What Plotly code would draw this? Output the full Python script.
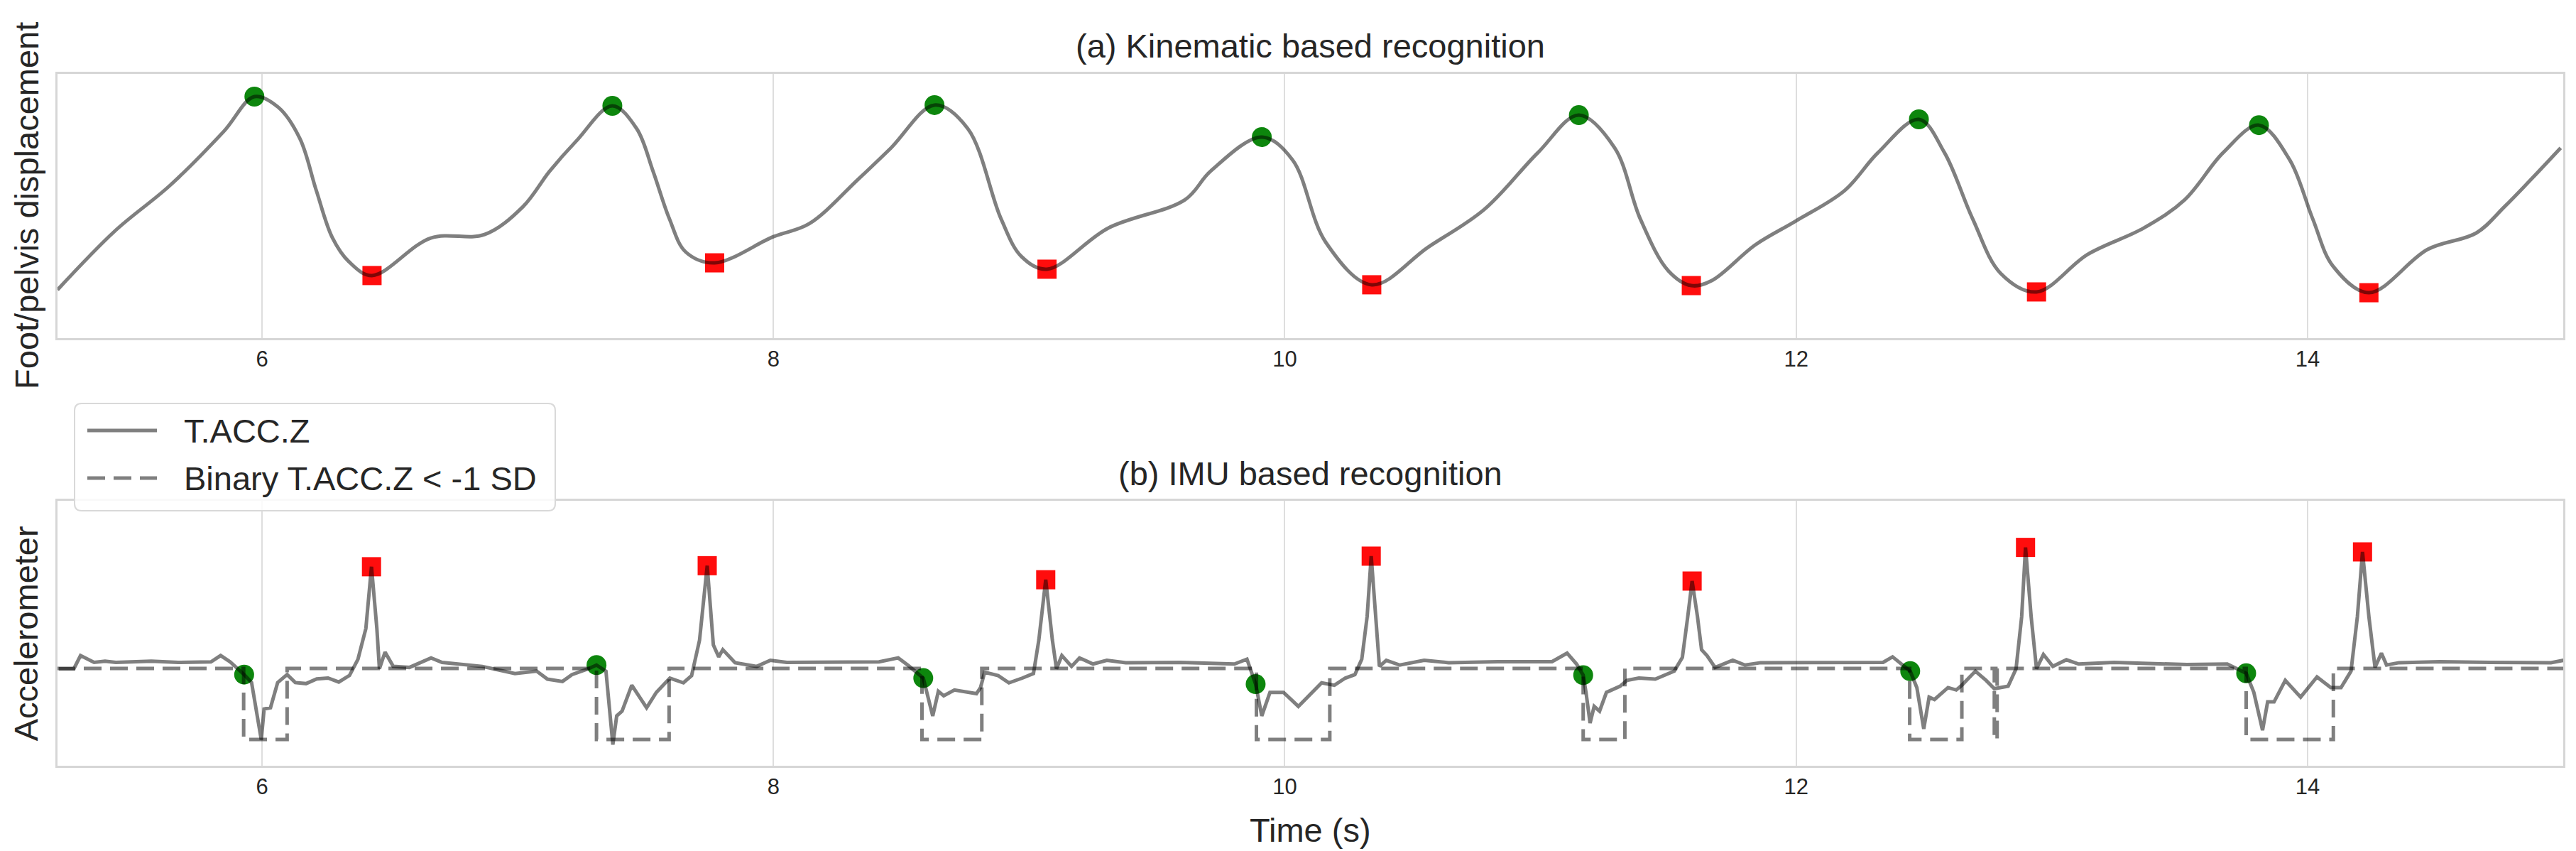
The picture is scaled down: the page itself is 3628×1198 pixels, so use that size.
import plotly.graph_objects as go

# ---------------- data ----------------
# (a) Foot/pelvis displacement (normalised units)
kin_t = [5.20, 5.425, 5.64, 5.85, 5.97, 6.063, 6.148, 6.212, 6.275, 6.339, 6.43, 6.66, 6.87, 7.02, 7.125,
         7.23, 7.37, 7.465, 7.529, 7.593, 7.657, 7.77, 8.0, 8.14, 8.33, 8.46, 8.63, 8.76, 8.89, 8.97, 9.07, 9.31,
         9.61, 9.71, 9.91, 10.03, 10.16, 10.34, 10.56, 10.78, 10.99, 11.15, 11.29, 11.39, 11.50,
         11.59, 11.67, 11.84, 12.0, 12.19, 12.32, 12.48, 12.58, 12.69, 12.80, 12.94, 13.14, 13.36,
         13.52, 13.67, 13.81, 13.93, 14.02, 14.10, 14.24, 14.47, 14.66, 14.77, 14.99]
kin_v = [0.183, 0.406, 0.578, 0.782, 0.914, 0.874, 0.755, 0.559, 0.38, 0.29, 0.237, 0.379, 0.392, 0.497, 0.632,
         0.747, 0.879, 0.793, 0.632, 0.452, 0.326, 0.285, 0.384, 0.433, 0.60, 0.72, 0.882, 0.793, 0.452, 0.309,
         0.261, 0.417, 0.524, 0.632, 0.761, 0.675, 0.363, 0.202, 0.344, 0.487, 0.702, 0.844, 0.72, 0.452, 0.255,
         0.199, 0.218, 0.353, 0.444, 0.559, 0.702, 0.828, 0.702, 0.452, 0.245, 0.175, 0.317, 0.417,
         0.524, 0.702, 0.806, 0.675, 0.452, 0.272, 0.172, 0.336, 0.398, 0.497, 0.72]
kin_peak_t = [5.97, 7.37, 8.63, 9.91, 11.15, 12.48, 13.81]
kin_peak_v = [0.914, 0.879, 0.882, 0.761, 0.844, 0.828, 0.806]
kin_trough_t = [6.43, 7.77, 9.07, 10.34, 11.59, 12.94, 14.24]
kin_trough_v = [0.237, 0.285, 0.261, 0.202, 0.199, 0.175, 0.172]

# (b) T.ACC.Z accelerometer (normalised units)
acc_t = [5.205, 5.264, 5.290, 5.343, 5.386, 5.428, 5.567, 5.672, 5.800, 5.838, 5.875, 5.930, 5.959, 5.997,
         6.008, 6.033, 6.061, 6.098, 6.130, 6.172, 6.214, 6.258, 6.300, 6.342, 6.375, 6.406, 6.428, 6.449,
         6.459, 6.481, 6.513, 6.576, 6.661, 6.704, 6.861, 6.989, 7.074, 7.116, 7.175, 7.212, 7.276, 7.308,
         7.345, 7.372, 7.387, 7.408, 7.446, 7.504, 7.542, 7.595, 7.648, 7.680, 7.711, 7.741, 7.765, 7.786,
         7.802, 7.850, 7.935, 7.988, 8.052, 8.243, 8.413, 8.488, 8.528, 8.586, 8.623, 8.645, 8.666, 8.708,
         8.794, 8.810, 8.826, 8.879, 8.921, 8.974, 9.017, 9.038, 9.065, 9.091, 9.107, 9.128, 9.166, 9.197,
         9.250, 9.304, 9.378, 9.591, 9.803, 9.852, 9.886, 9.910, 9.942, 9.995, 10.053, 10.144, 10.194,
         10.237, 10.274, 10.301, 10.322, 10.338, 10.354, 10.370, 10.397, 10.450, 10.545, 10.641, 10.833,
         11.045, 11.104, 11.141, 11.167, 11.178, 11.194, 11.210, 11.231, 11.258, 11.311, 11.338, 11.385,
         11.449, 11.523, 11.555, 11.576, 11.593, 11.614, 11.630, 11.651, 11.683, 11.752, 11.800, 11.861,
         12.0, 12.340, 12.377, 12.414, 12.446, 12.472, 12.499, 12.520, 12.541, 12.594, 12.626, 12.648,
         12.701, 12.743, 12.775, 12.829, 12.860, 12.882, 12.897, 12.919, 12.940, 12.967, 13.004, 13.057,
         13.105, 13.243, 13.528, 13.686, 13.726, 13.760, 13.790, 13.824, 13.844, 13.869, 13.913, 13.973,
         14.037, 14.091, 14.131, 14.170, 14.195, 14.215, 14.240, 14.264, 14.289, 14.309, 14.358, 14.517,
         14.714, 14.952, 15.001]
acc_v = [0.366, 0.366, 0.416, 0.390, 0.395, 0.390, 0.395, 0.390, 0.392, 0.416, 0.392, 0.344, 0.314, 0.098,
         0.214, 0.219, 0.314, 0.344, 0.314, 0.310, 0.328, 0.331, 0.316, 0.341, 0.402, 0.518, 0.751, 0.518,
         0.366, 0.429, 0.375, 0.371, 0.407, 0.390, 0.375, 0.348, 0.357, 0.327, 0.318, 0.344, 0.366, 0.380,
         0.357, 0.080, 0.188, 0.206, 0.304, 0.219, 0.277, 0.331, 0.313, 0.340, 0.474, 0.755, 0.456, 0.411,
         0.438, 0.389, 0.375, 0.398, 0.390, 0.390, 0.392, 0.407, 0.378, 0.331, 0.188, 0.281, 0.264, 0.286,
         0.272, 0.295, 0.353, 0.340, 0.313, 0.331, 0.348, 0.474, 0.702, 0.474, 0.366, 0.416, 0.375, 0.407,
         0.384, 0.398, 0.389, 0.390, 0.384, 0.402, 0.308, 0.188, 0.277, 0.277, 0.224, 0.313, 0.304,
         0.331, 0.344, 0.402, 0.563, 0.791, 0.563, 0.375, 0.398, 0.380, 0.398, 0.389, 0.393,
         0.393, 0.425, 0.384, 0.342, 0.277, 0.161, 0.224, 0.206, 0.277, 0.300, 0.322, 0.331,
         0.327, 0.357, 0.409, 0.563, 0.697, 0.563, 0.438, 0.416, 0.371, 0.398, 0.380, 0.389,
         0.390, 0.390, 0.411, 0.384, 0.357, 0.295, 0.139, 0.259, 0.250, 0.295, 0.286, 0.304,
         0.357, 0.322, 0.291, 0.300, 0.366, 0.563, 0.824, 0.563, 0.366, 0.420, 0.375, 0.400,
         0.384, 0.390, 0.382, 0.384, 0.366, 0.349, 0.277, 0.134, 0.241, 0.241, 0.322, 0.259,
         0.335, 0.295, 0.295, 0.357, 0.563, 0.807, 0.563, 0.371, 0.425, 0.380, 0.389, 0.393,
         0.390, 0.389, 0.398]

# Binary T.ACC.Z < -1 SD (step series: value holds until next time)
bin_t = [5.20, 5.928, 6.098, 7.308, 7.592, 8.581, 8.815, 9.889, 10.176, 11.167, 11.330,
         12.444, 12.648, 12.775, 12.786, 13.760, 14.101, 15.0]
bin_v = [0.367, 0.099, 0.367, 0.099, 0.367, 0.099, 0.367, 0.099, 0.367, 0.099, 0.367,
         0.099, 0.367, 0.099, 0.367, 0.099, 0.367, 0.367]

acc_hs_t = [5.930, 7.308, 8.586, 9.886, 11.167, 12.446, 13.760]
acc_hs_v = [0.344, 0.380, 0.331, 0.308, 0.342, 0.357, 0.349]
acc_pk_t = [6.428, 7.741, 9.065, 10.338, 11.593, 12.897, 14.215]
acc_pk_v = [0.751, 0.755, 0.702, 0.791, 0.697, 0.824, 0.807]

x_ticks = [6, 8, 10, 12, 14]
legend_labels = ["T.ACC.Z", "Binary T.ACC.Z < -1 SD"]

# ---------------- figure ----------------
FONT = "Liberation Sans, Arial, sans-serif"
TXT = "#262626"
LINE = "rgba(0,0,0,0.5)"
GREEN = "rgba(0,128,0,0.95)"
RED = "rgba(255,0,0,0.95)"
DASH = "25px,12px"

fig = go.Figure()

# panel (a)
fig.add_trace(go.Scatter(x=kin_peak_t, y=kin_peak_v, mode="markers", xaxis="x", yaxis="y",
                         marker=dict(symbol="circle", size=28, color=GREEN), showlegend=False))
fig.add_trace(go.Scatter(x=kin_trough_t, y=kin_trough_v, mode="markers", xaxis="x", yaxis="y",
                         marker=dict(symbol="square", size=27, color=RED), showlegend=False))
fig.add_trace(go.Scatter(x=kin_t, y=kin_v, mode="lines", xaxis="x", yaxis="y",
                         line=dict(color=LINE, width=5, shape="spline", smoothing=1.0),
                         showlegend=False))

# panel (b)
fig.add_trace(go.Scatter(x=acc_hs_t, y=acc_hs_v, mode="markers", xaxis="x2", yaxis="y2",
                         marker=dict(symbol="circle", size=28, color=GREEN), showlegend=False))
fig.add_trace(go.Scatter(x=acc_pk_t, y=acc_pk_v, mode="markers", xaxis="x2", yaxis="y2",
                         marker=dict(symbol="square", size=27, color=RED), showlegend=False))
fig.add_trace(go.Scatter(x=acc_t, y=acc_v, mode="lines", xaxis="x2", yaxis="y2", name=legend_labels[0],
                         line=dict(color=LINE, width=5), showlegend=False))
fig.add_trace(go.Scatter(x=bin_t, y=bin_v, mode="lines", xaxis="x2", yaxis="y2",
                         name=legend_labels[1], showlegend=False,
                         line=dict(color=LINE, width=5, shape="hv", dash=DASH)))

axis_common = dict(range=[5.2, 15.0], tickvals=x_ticks, showgrid=True, gridcolor="#dedede",
                   gridwidth=2, zeroline=False, showline=True, linecolor="#d6d6d6", linewidth=3,
                   mirror=True, ticks="", tickfont=dict(size=31, color=TXT, family=FONT))
yaxis_common = dict(range=[0, 1], showticklabels=False, showgrid=False, zeroline=False,
                    showline=True, linecolor="#d6d6d6", linewidth=3, mirror=True, ticks="")

# ---- legend box (drawn as layout shapes, paper coordinates) ----
W_PLOT, H_PLOT, ML, MB_PX = 3529.0, 974.0, 73.0, 1070.0
def px(x):
    return (x - ML) / W_PLOT
def py(y):
    return (MB_PX - y) / H_PLOT

bx0, bx1, by0, by1 = px(97), px(774), py(711), py(560)
rx, ry = 10 / W_PLOT, 10 / H_PLOT
box_path = (f"M {bx0+rx},{by0} L {bx1-rx},{by0} Q {bx1},{by0} {bx1},{by0+ry} "
            f"L {bx1},{by1-ry} Q {bx1},{by1} {bx1-rx},{by1} L {bx0+rx},{by1} "
            f"Q {bx0},{by1} {bx0},{by1-ry} L {bx0},{by0+ry} Q {bx0},{by0} {bx0+rx},{by0} Z")

shapes = [
    dict(type="path", path=box_path, xref="paper", yref="paper", layer="above",
         fillcolor="rgba(255,255,255,0.85)", line=dict(color="#d9d9d9", width=2)),
    dict(type="line", xref="paper", yref="paper", x0=px(115), x1=px(213), y0=py(598), y1=py(598),
         layer="above", line=dict(color=LINE, width=5)),
    dict(type="line", xref="paper", yref="paper", x0=px(115), x1=px(213), y0=py(665), y1=py(665),
         layer="above", line=dict(color=LINE, width=5, dash=DASH)),
]

fig.update_layout(
    width=3628, height=1198,
    margin=dict(l=73, r=26, t=96, b=128),
    paper_bgcolor="white", plot_bgcolor="white",
    font=dict(family=FONT, color=TXT, size=31),
    showlegend=False,
    xaxis=dict(anchor="y", domain=[0, 1], **axis_common),
    yaxis=dict(anchor="x", domain=[0.618, 1], **yaxis_common),
    xaxis2=dict(anchor="y2", domain=[0, 1], **axis_common),
    yaxis2=dict(anchor="x2", domain=[0, 0.383], **yaxis_common),
    shapes=shapes,
    annotations=[
        dict(text="(a) Kinematic based recognition", xref="paper", yref="paper", x=0.5, y=1.041,
             xanchor="center", yanchor="middle", showarrow=False, font=dict(size=47, color=TXT)),
        dict(text="(b) IMU based recognition", xref="paper", yref="paper", x=0.5, y=0.422,
             xanchor="center", yanchor="middle", showarrow=False, font=dict(size=47, color=TXT)),
        dict(text="Foot/pelvis displacement", xref="paper", yref="paper", x=-0.0125, y=0.81,
             xanchor="center", yanchor="middle", textangle=-90, showarrow=False,
             font=dict(size=47, color=TXT)),
        dict(text="Accelerometer", xref="paper", yref="paper", x=-0.0125, y=0.1915,
             xanchor="center", yanchor="middle", textangle=-90, showarrow=False,
             font=dict(size=47, color=TXT)),
        dict(text="Time (s)", xref="paper", yref="paper", x=0.5, y=-0.0934,
             xanchor="center", yanchor="middle", showarrow=False, font=dict(size=47, color=TXT)),
        dict(text=legend_labels[0], xref="paper", yref="paper", x=px(249), y=py(598),
             xanchor="left", yanchor="middle", showarrow=False, font=dict(size=47, color=TXT)),
        dict(text=legend_labels[1], xref="paper", yref="paper", x=px(249), y=py(665),
             xanchor="left", yanchor="middle", showarrow=False, font=dict(size=47, color=TXT)),
    ],
)

fig.write_html("out.html")
